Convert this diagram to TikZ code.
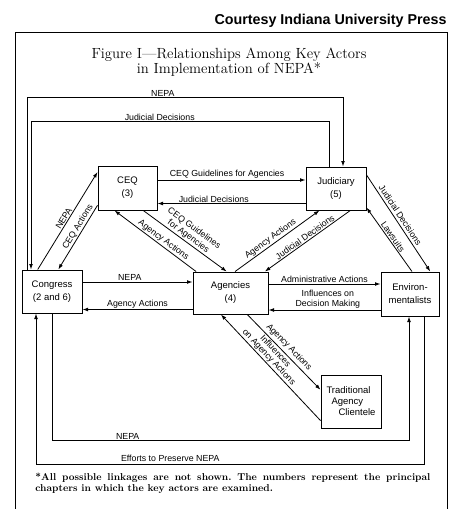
\documentclass[tikz,border=0pt]{standalone}
\usepackage{fontspec}
\setsansfont{Liberation Sans}
\usetikzlibrary{arrows.meta}

\begin{document}
\begin{tikzpicture}[x=1pt,y=-1pt,line width=0.8pt,>={Latex[length=5.5pt,width=3.8pt]},
  actor/.style={draw,line width=1pt,align=center,inner sep=0pt,font=\sffamily\fontsize{9.5}{13}\selectfont},
  lbl/.style={inner sep=1pt,font=\sffamily\fontsize{8.8}{9.8}\selectfont}]
\useasboundingbox (0,0) rectangle (460,509);
\node[anchor=east,inner sep=0pt,font=\sffamily\bfseries\fontsize{14.3}{16}\selectfont] (credit) at (447,21) {Courtesy Indiana University Press};
\draw[line width=1pt] (15,509) -- (15,32) -- (447,32) -- (447,509);
\node[align=center,font=\fontsize{14.7}{15.5}\selectfont] (title) at (229,62) {Figure I---Relationships Among Key Actors\\in Implementation of NEPA*};

\node[actor,minimum width=59pt,minimum height=44pt] (ceq) at (127.5,188) {CEQ\\(3)};
\node[actor,minimum width=60pt,minimum height=43pt] (jud) at (336,188.5) {Judiciary\\(5)};
\node[actor,minimum width=60pt,minimum height=43pt] (cong) at (52,291.5) {Congress\\(2 and 6)};
\node[actor,minimum width=75pt,minimum height=42pt] (agen) at (230.5,293) {Agencies\\(4)};
\node[actor,minimum width=58pt,minimum height=44pt] (env) at (410,294) {Environ-\\mentalists};
\node[actor,minimum width=60pt,minimum height=53pt,align=left,font=\sffamily\fontsize{9.5}{11}\selectfont] (trad) at (351,401.5) {Traditional\\\hspace*{5pt}Agency\\\hspace*{12pt}Clientele};

\draw[->] ([yshift=8pt]ceq.east) -- node[lbl,above,pos=0.47] {CEQ Guidelines for Agencies} ([yshift=8.5pt]jud.west);
\draw[->] ([yshift=-15pt]jud.west) -- node[lbl,above,pos=0.62] {Judicial Decisions} ([yshift=-15.5pt]ceq.east);
\draw[->] ([yshift=9.5pt]cong.east) -- node[lbl,above,pos=0.43] {NEPA} ([yshift=11pt]agen.west);
\draw[->] ([yshift=-16.5pt]agen.west) -- node[lbl,above] {Agency Actions} ([yshift=-18pt]cong.east);
\draw[->] ([yshift=9pt]agen.east) -- node[lbl,above] {Administrative Actions} ([yshift=10pt]env.west);
\draw[->] ([yshift=-16pt]env.west) -- node[lbl,above,align=center,pos=0.47] {Influences on\\Decision Making} ([yshift=-17pt]agen.east);

\draw[->] ([xshift=-25pt]cong.north) -- ++(0,-172) -| node[lbl,above,pos=0.215] {NEPA} ([xshift=7pt]jud.north);
\draw[->] ([xshift=-7pt]jud.north) -- ++(0,-45) -| node[lbl,above,pos=0.284] {Judicial Decisions} ([xshift=-21pt]cong.north);
\draw[->] (cong.south) -- ++(0,127) -| node[lbl,above,pos=0.106] {NEPA} ([xshift=-1pt]env.south);
\draw[->] ([xshift=14pt]env.south) -- ++(0,148) -| node[lbl,above=2pt,pos=0.327] {Efforts to Preserve NEPA} ([xshift=-16pt]cong.south);

\draw[->] (cong.123) -- node[lbl,sloped,above] {NEPA} (ceq.152);
\draw[->] (ceq.210) -- node[lbl,sloped,above,pos=0.38] {CEQ Actions} (cong.74);
\draw[->] (agen.148) -- node[lbl,sloped,above,pos=0.44] {Agency Actions} (ceq.240);
\draw[->] (ceq.-55) -- node[lbl,sloped,above,align=center] {CEQ Guidelines\\for Agencies} (agen.100);
\draw[->] (agen.78) -- node[lbl,sloped,above,pos=0.46] {Agency Actions} (jud.233);
\draw[->] (jud.-57) -- node[lbl,sloped,above] {Judicial Decisions} (agen.32);
\draw[->] (jud.24) -- node[lbl,sloped,above=1.5pt,pos=0.45] {Judicial Decisions} (env.48);
\draw[->] (env.85) -- node[lbl,sloped,above] {Lawsuits} (jud.-32);
\draw[->] (agen.-52) -- node[lbl,sloped,above=1.5pt] {Agency Actions} (trad.159);
\draw[->] (trad.212) -- node[lbl,sloped,above,align=center,pos=0.56,font=\sffamily\fontsize{8.8}{8.8}\selectfont] {Influences\\on Agency Actions} (agen.246);

\node[anchor=north west,inner sep=0pt,text width=395pt,align=justify,font=\bfseries\fontsize{10}{10.5}\selectfont] (note) at (35,473) {\frenchspacing *All possible linkages are not shown. The numbers represent the principal\linebreak chapters in which the key actors are examined.};
\end{tikzpicture}
\end{document}
